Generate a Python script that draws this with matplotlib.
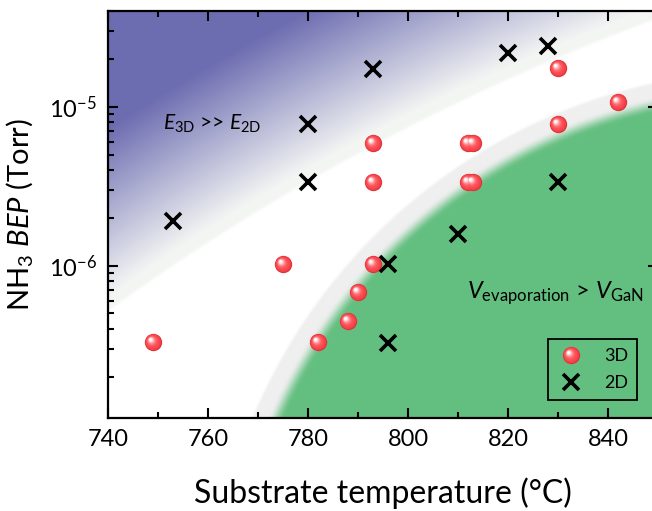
import numpy as np
import matplotlib
matplotlib.use("Agg")
import matplotlib.pyplot as plt
from matplotlib.path import Path
from matplotlib.lines import Line2D
from matplotlib.legend_handler import HandlerTuple
from matplotlib.ticker import LogLocator, NullFormatter, MultipleLocator

plt.rcParams['font.family'] = ['Lato', 'DejaVu Sans']
plt.rcParams['mathtext.fontset'] = 'custom'
plt.rcParams['mathtext.rm'] = 'Lato'
plt.rcParams['mathtext.it'] = 'Lato:italic'
plt.rcParams['mathtext.bf'] = 'Lato:bold'

# ---- data ----
temp_3d = [749, 775, 782, 788, 790, 793, 793, 793, 812, 813, 812, 813, 830, 830, 842]
bep_3d = [3.3e-7, 1.02e-6, 3.3e-7, 4.5e-7, 6.8e-7, 1.02e-6, 3.35e-6, 5.9e-6,
          3.35e-6, 3.35e-6, 5.9e-6, 5.9e-6, 7.8e-6, 1.75e-5, 1.07e-5]

temp_2d = [753, 780, 780, 793, 796, 796, 810, 820, 828, 830]
bep_2d = [1.9e-6, 3.35e-6, 7.8e-6, 1.72e-5, 1.02e-6, 3.25e-7, 1.58e-6, 2.17e-5, 2.42e-5, 3.35e-6]

xlim = (740, 850)
ylim = (1.1e-7, 4.0e-5)
xticks = [740, 760, 780, 800, 820, 840]

# region boundaries (ellipses in temperature / log10(BEP) space)
green_c = (873.2, -8.32)
green_r = (108.6, 3.415)
blue_c = (1006.2, -17.84)
blue_r = (453.4, 14.26)

col_green = np.array([100, 191, 128]) / 255
col_gray = np.array([239, 239, 239]) / 255
col_band = np.array([244, 246, 244]) / 255
col_blue = np.array([108, 108, 177]) / 255

fig = plt.figure(figsize=(6.52, 5.11), dpi=100)
ax = fig.add_axes([108 / 652, 93 / 511, 550 / 652, 407 / 511])
ax.set_yscale('log')

# ---- background shading ----
nx, ny = 1100, 814
u = np.linspace(0, 1, nx)
v = np.linspace(0, 1, ny)
U, V = np.meshgrid(u, v)
T = xlim[0] + U * (xlim[1] - xlim[0])
L = np.log10(ylim[0]) + V * (np.log10(ylim[1]) - np.log10(ylim[0]))

rg = np.sqrt(((T - green_c[0]) / green_r[0]) ** 2 + ((L - green_c[1]) / green_r[1]) ** 2)
dg = (rg - 1) * 543
rb = np.sqrt(((T - blue_c[0]) / blue_r[0]) ** 2 + ((L - blue_c[1]) / blue_r[1]) ** 2)
db = (rb - 1) * 2267


def mix(img, col, a):
    a = a[..., None]
    return img * (1 - a) + col * a


rgb = np.ones((ny, nx, 3))
rgb = mix(rgb, col_band, np.clip(db / 3, 0, 1))
rgb = mix(rgb, col_blue, np.clip((db - 12) / 140, 0, 1))
rgb = mix(rgb, col_gray, np.clip((23 - dg) / 3, 0, 1))
ga = np.clip(0.5 - dg / 16, 0, 1)
ga = ga * ga * (3 - 2 * ga)
rgb = mix(rgb, col_green, ga)

ax.imshow(rgb, extent=(0, 1, 0, 1), transform=ax.transAxes, origin='lower',
          aspect='auto', interpolation='bilinear', zorder=0)


# ---- sphere-like markers ----
def circle_marker(cx, cy, r):
    c = Path.circle((cx, cy), r)
    verts = np.vstack([c.vertices, [[-1, -1], [1, 1]]])
    codes = np.concatenate([c.codes, [Path.MOVETO, Path.MOVETO]])
    return Path(verts, codes)


sphere_radii = [1.0, 0.9, 0.76, 0.6, 0.46, 0.34, 0.24, 0.14]
sphere_cols = ['#e0343a', '#f4424a', '#fb4c53', '#fd5f66', '#fe868b', '#ffb4b7', '#ffe0e1', '#ffffff']
sphere_ms = 12.5

sphere_handles = []
for r, c in zip(sphere_radii, sphere_cols):
    off = (1 - r) * 0.4
    m = circle_marker(-off, off, r)
    ax.plot(temp_3d, bep_3d, ls='none', marker=m, ms=sphere_ms, mew=0, color=c, zorder=3)
    sphere_handles.append(Line2D([], [], ls='none', marker=m, ms=sphere_ms, mew=0, color=c))

ax.plot(temp_2d, bep_2d, ls='none', marker='x', ms=12, mew=2.6, color='black', zorder=4)
x_handle = Line2D([], [], ls='none', marker='x', ms=12, mew=2.6, color='black')

leg = ax.legend([tuple(sphere_handles), x_handle], ['3D', '2D'],
                handler_map={tuple: HandlerTuple(ndivide=1)},
                loc='lower left', bbox_to_anchor=(0.8, 0.044), borderaxespad=0,
                fontsize=13, frameon=True, fancybox=False, edgecolor='black',
                facecolor='none', framealpha=1, handlelength=1.6, handletextpad=1.0,
                borderpad=0.5, labelspacing=0.6)
leg.get_frame().set_linewidth(1.3)
leg.set_zorder(5)

# ---- annotations ----
ax.text(760.8, 7.8e-6, r'$E_{\mathrm{3D}}$ >> $E_{\mathrm{2D}}$', fontsize=15,
        ha='center', va='center', zorder=5)
ax.text(829.5, 6.7e-7, r'$V_{\mathrm{evaporation}}$ > $V_{\mathrm{GaN}}$', fontsize=17,
        ha='center', va='center', zorder=5)

# ---- axes ----
ax.set_xlim(*xlim)
ax.set_ylim(*ylim)
ax.set_xticks(xticks)
ax.xaxis.set_minor_locator(MultipleLocator(10))
ax.yaxis.set_major_locator(LogLocator(base=10))
ax.yaxis.set_minor_locator(LogLocator(base=10, subs=np.arange(2, 10)))
ax.yaxis.set_minor_formatter(NullFormatter())
ax.tick_params(which='both', direction='in', top=True, right=True, labelsize=17, width=1.5)
ax.tick_params(which='major', length=7, pad=8)
ax.tick_params(which='minor', length=4)
for s in ax.spines.values():
    s.set_linewidth(1.6)

ax.set_xlabel('Substrate temperature (°C)', fontsize=23, labelpad=20)
ax.set_ylabel(r'NH$_3$ $BEP$ (Torr)', fontsize=21, labelpad=10)

fig.savefig('out.png', dpi=100)
